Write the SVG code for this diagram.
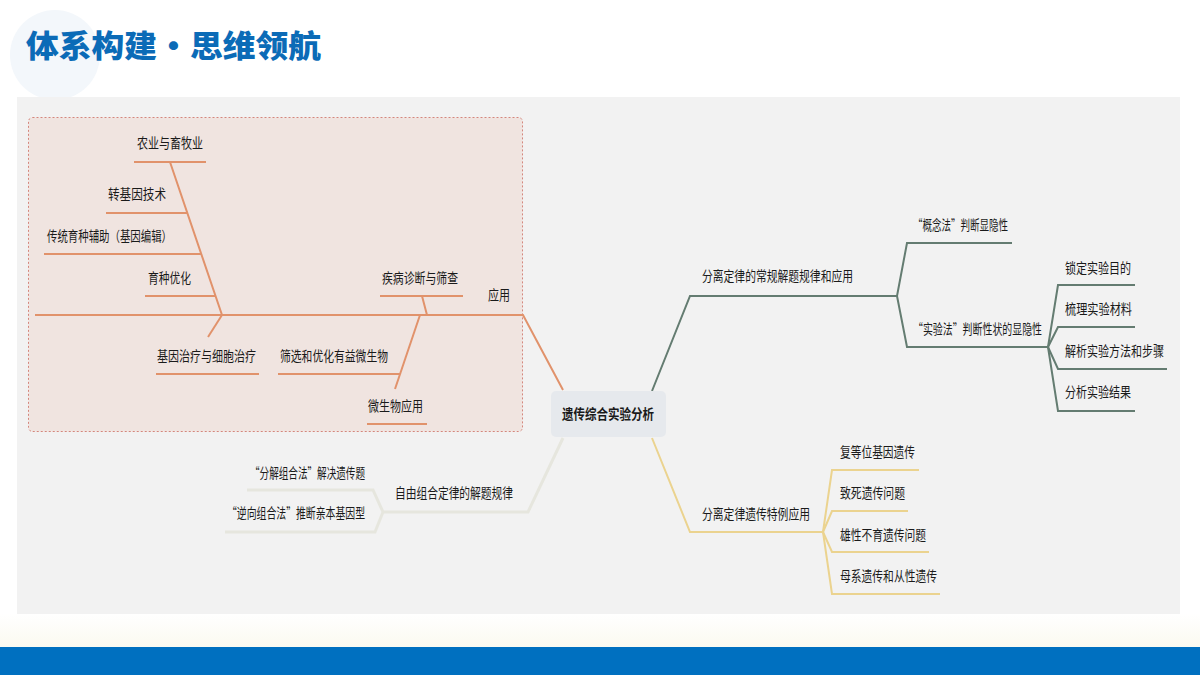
<svg xmlns="http://www.w3.org/2000/svg" width="1200" height="675" viewBox="0 0 1200 675">
<defs>
<linearGradient id="fade" x1="0" y1="0" x2="0" y2="1">
<stop offset="0" stop-color="#ffffff"/>
<stop offset="1" stop-color="#fbfaf0"/>
</linearGradient>
<style>
text{font-family:"Noto Sans CJK SC","Noto Sans",sans-serif;font-size:14px;fill:#1a1a1a}
.title{font-size:31px;font-weight:900;fill:#0b6bb7}
.center{font-size:14px;font-weight:bold}
.or{stroke:#e1926b;stroke-width:2;fill:none}
.gr{stroke:#647c71;stroke-width:2;fill:none}
.ye{stroke:#ebd38f;stroke-width:2;fill:none}
.lt{stroke:#e6e6de;stroke-width:3;fill:none}
</style>
</defs>
<rect x="0" y="0" width="1200" height="675" fill="#ffffff"/>
<circle cx="55" cy="55" r="45" fill="#f3f7fb"/>
<text class="title" x="26" y="57" textLength="295" lengthAdjust="spacingAndGlyphs">体系构建•思维领航</text>
<rect x="17" y="97" width="1163" height="517" fill="#f2f2f2"/>
<rect x="0" y="614" width="1200" height="33" fill="url(#fade)"/>
<rect x="0" y="647" width="1200" height="28" fill="#0070c0"/>
<rect x="28.5" y="117.5" width="494" height="314" rx="4" fill="#f0e4e0" stroke="#d4877d" stroke-width="1" stroke-dasharray="2 2"/>

<g id="connectors">
<path class="or" d="M35,315 H523 L563,390"/>
<path class="or" d="M134,162 H206 M170,162 L222,315"/>
<path class="or" d="M106,213 H187"/>
<path class="or" d="M44,254 H201"/>
<path class="or" d="M145,296 H215"/>
<path class="or" d="M222,315 L208,337"/>
<path class="or" d="M156,374 H259"/>
<path class="or" d="M380,296 H463 M422,296 L427,315"/>
<path class="or" d="M420,315 L395,389"/>
<path class="or" d="M278,374 H400"/>
<path class="or" d="M367,424 H427"/>
<path class="gr" d="M652,391 L690,296 H897"/>
<path class="gr" d="M897,296 L907,243 H1012"/>
<path class="gr" d="M897,296 L907,347 H1048"/>
<path class="gr" d="M1048,347 L1058,285 H1135"/>
<path class="gr" d="M1048,347 L1058,327 H1135"/>
<path class="gr" d="M1048,347 L1058,369 H1167"/>
<path class="gr" d="M1048,347 L1058,411 H1135"/>
<path class="ye" d="M652,438 L690,532 H823"/>
<path class="ye" d="M823,532 L832,470 H919"/>
<path class="ye" d="M823,532 L832,511 H908"/>
<path class="ye" d="M823,532 L832,552 H929"/>
<path class="ye" d="M823,532 L832,594 H940"/>
<path class="lt" d="M563,438 L528,512 H383"/>
<path class="lt" d="M383,512 L373,490 H247"/>
<path class="lt" d="M383,512 L375,532 H225"/>
</g>

<g id="center">
<rect x="551" y="391" width="115" height="46" rx="5" fill="#e6e9ed"/>
<text class="center" x="562" y="419" textLength="92" lengthAdjust="spacingAndGlyphs">遗传综合实验分析</text>
</g>

<g id="fishbone-nodes">
<g id="n-app"><text x="488" y="300" textLength="22" lengthAdjust="spacingAndGlyphs">应用</text></g>
<g id="n-agri"><text x="137" y="148" textLength="66" lengthAdjust="spacingAndGlyphs">农业与畜牧业</text></g>
<g id="n-gm"><text x="108" y="199" textLength="58" lengthAdjust="spacingAndGlyphs">转基因技术</text></g>
<g id="n-trad"><text x="47" y="241" textLength="125" lengthAdjust="spacingAndGlyphs">传统育种辅助（基因编辑）</text></g>
<g id="n-breed"><text x="148" y="283" textLength="43" lengthAdjust="spacingAndGlyphs">育种优化</text></g>
<g id="n-disease"><text x="382" y="283" textLength="76" lengthAdjust="spacingAndGlyphs">疾病诊断与筛查</text></g>
<g id="n-therapy"><text x="157" y="361" textLength="99" lengthAdjust="spacingAndGlyphs">基因治疗与细胞治疗</text></g>
<g id="n-screen"><text x="280" y="361" textLength="108" lengthAdjust="spacingAndGlyphs">筛选和优化有益微生物</text></g>
<g id="n-micro"><text x="368" y="411" textLength="55" lengthAdjust="spacingAndGlyphs">微生物应用</text></g>
</g>

<g id="green-nodes">
<g id="n-g1"><text x="702" y="281" textLength="151" lengthAdjust="spacingAndGlyphs">分离定律的常规解题规律和应用</text></g>
<g id="n-g2"><text x="913" y="230" textLength="95" lengthAdjust="spacingAndGlyphs">“概念法”判断显隐性</text></g>
<g id="n-g3"><text x="913" y="334" textLength="129" lengthAdjust="spacingAndGlyphs">“实验法”判断性状的显隐性</text></g>
<g id="n-g4"><text x="1065" y="273" textLength="66" lengthAdjust="spacingAndGlyphs">锁定实验目的</text></g>
<g id="n-g5"><text x="1065" y="314" textLength="67" lengthAdjust="spacingAndGlyphs">梳理实验材料</text></g>
<g id="n-g6"><text x="1065" y="356" textLength="99" lengthAdjust="spacingAndGlyphs">解析实验方法和步骤</text></g>
<g id="n-g7"><text x="1065" y="397" textLength="66" lengthAdjust="spacingAndGlyphs">分析实验结果</text></g>
</g>

<g id="yellow-nodes">
<g id="n-y1"><text x="702" y="519" textLength="108" lengthAdjust="spacingAndGlyphs">分离定律遗传特例应用</text></g>
<g id="n-y2"><text x="840" y="457" textLength="75" lengthAdjust="spacingAndGlyphs">复等位基因遗传</text></g>
<g id="n-y3"><text x="840" y="498" textLength="65" lengthAdjust="spacingAndGlyphs">致死遗传问题</text></g>
<g id="n-y4"><text x="840" y="540" textLength="86" lengthAdjust="spacingAndGlyphs">雄性不育遗传问题</text></g>
<g id="n-y5"><text x="840" y="581" textLength="97" lengthAdjust="spacingAndGlyphs">母系遗传和从性遗传</text></g>
</g>

<g id="light-nodes">
<g id="n-l1"><text x="395" y="498" textLength="118" lengthAdjust="spacingAndGlyphs">自由组合定律的解题规律</text></g>
<g id="n-l2"><text x="250" y="478" textLength="115" lengthAdjust="spacingAndGlyphs">“分解组合法”解决遗传题</text></g>
<g id="n-l3"><text x="227" y="518" textLength="138" lengthAdjust="spacingAndGlyphs">“逆向组合法”推断亲本基因型</text></g>
</g>
</svg>
